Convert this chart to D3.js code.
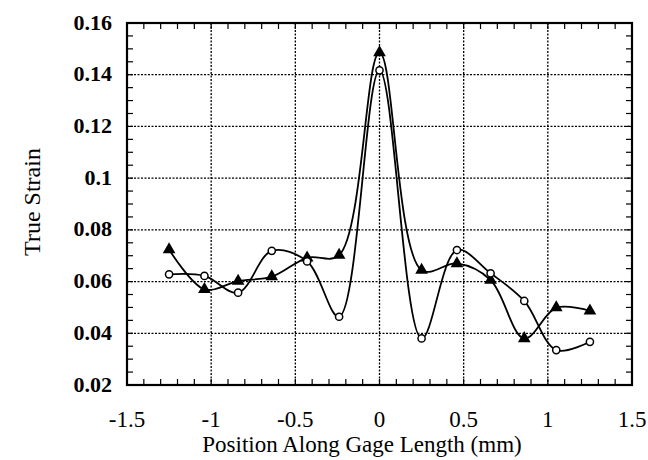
<!DOCTYPE html>
<html>
<head>
<meta charset="utf-8">
<script src="https://cdn.jsdelivr.net/npm/d3@7"></script>
<style>
  body { margin: 0; background: #fff; }
  text { font-family: "Liberation Serif", "Times New Roman", serif; fill: #000; }
</style>
</head>
<body>
<div id="chart"></div>
<script>
// positions along the gage (mm)
var positions = [-1.25, -1.04, -0.84, -0.64, -0.43, -0.24, 0, 0.25, 0.46, 0.66, 0.86, 1.05, 1.25];
// open circle series
var circleStrain = [0.0628, 0.0622, 0.0557, 0.0719, 0.0678, 0.0464, 0.1417, 0.0380, 0.0722, 0.0632, 0.0525, 0.0335, 0.0367];
// filled triangle series
var triangleStrain = [0.0724, 0.0570, 0.0602, 0.0619, 0.0692, 0.0702, 0.1486, 0.0644, 0.0670, 0.0606, 0.0380, 0.0499, 0.0487];

var xTicks = [-1.5, -1, -0.5, 0, 0.5, 1, 1.5];
var xTickLabels = ["-1.5", "-1", "-0.5", "0", "0.5", "1", "1.5"];
var yTicks = [0.02, 0.04, 0.06, 0.08, 0.1, 0.12, 0.14, 0.16];
var yTickLabels = ["0.02", "0.04", "0.06", "0.08", "0.1", "0.12", "0.14", "0.16"];

var width = 648,
    height = 460;
var margin = {left: 127, top: 23, right: 16, bottom: 75};
var w = width - margin.left - margin.right,
    h = height - margin.top - margin.bottom;

var svg = d3.select("#chart").append("svg")
    .attr("width", width)
    .attr("height", height);

var g = svg.append("g")
    .attr("transform", "translate(" + margin.left + "," + margin.top + ")");

var x = d3.scaleLinear().domain([-1.5, 1.5]).range([0, w]);
var y = d3.scaleLinear().domain([0.02, 0.16]).range([h, 0]);

// dotted grid
g.selectAll(".vgrid")
    .data(xTicks.slice(1, -1))
    .enter().append("line")
    .attr("x1", function(d) { return x(d); })
    .attr("x2", function(d) { return x(d); })
    .attr("y1", 0).attr("y2", h)
    .attr("stroke", "#000").attr("stroke-width", 1.3)
    .attr("stroke-dasharray", "2,1.5");

g.selectAll(".hgrid")
    .data(yTicks.slice(1, -1))
    .enter().append("line")
    .attr("y1", function(d) { return y(d); })
    .attr("y2", function(d) { return y(d); })
    .attr("x1", 0).attr("x2", w)
    .attr("stroke", "#000").attr("stroke-width", 1.3)
    .attr("stroke-dasharray", "2,1.5");

// minor ticks, inside the frame
var xMinor = d3.range(-14, 15).map(function(i) { return i / 10; });
var yMinor = d3.range(5, 32).map(function(i) { return i * 0.005; });
var tl = 6;

xMinor.forEach(function(v) {
    g.append("line").attr("x1", x(v)).attr("x2", x(v)).attr("y1", h).attr("y2", h - tl)
        .attr("stroke", "#000").attr("stroke-width", 1.2);
    g.append("line").attr("x1", x(v)).attr("x2", x(v)).attr("y1", 0).attr("y2", tl)
        .attr("stroke", "#000").attr("stroke-width", 1.2);
});
yMinor.forEach(function(v) {
    g.append("line").attr("y1", y(v)).attr("y2", y(v)).attr("x1", 0).attr("x2", tl)
        .attr("stroke", "#000").attr("stroke-width", 1.2);
    g.append("line").attr("y1", y(v)).attr("y2", y(v)).attr("x1", w).attr("x2", w - tl)
        .attr("stroke", "#000").attr("stroke-width", 1.2);
});

// frame
g.append("rect")
    .attr("width", w).attr("height", h)
    .attr("fill", "none").attr("stroke", "#000").attr("stroke-width", 2.2);

// tick labels
g.selectAll(".xlab")
    .data(xTicks)
    .enter().append("text")
    .attr("x", function(d) { return x(d); })
    .attr("y", h + 42)
    .attr("text-anchor", "middle")
    .style("font-size", "23px")
    .text(function(d, i) { return xTickLabels[i]; });

g.selectAll(".ylab")
    .data(yTicks)
    .enter().append("text")
    .attr("x", -15)
    .attr("y", function(d) { return y(d); })
    .attr("dy", "0.3em")
    .attr("text-anchor", "end")
    .style("font-size", "22px")
    .style("font-weight", "bold")
    .text(function(d, i) { return yTickLabels[i]; });

// axis titles
svg.append("text")
    .attr("x", 362).attr("y", 452)
    .attr("text-anchor", "middle")
    .style("font-size", "23px")
    .text("Position Along Gage Length (mm)");

svg.append("text")
    .attr("transform", "translate(40,202) rotate(-90)")
    .attr("text-anchor", "middle")
    .style("font-size", "24px")
    .text("True Strain");

// smoothed lines
var line = d3.line()
    .x(function(d) { return x(d[0]); })
    .y(function(d) { return y(d[1]); })
    .curve(d3.curveCatmullRom.alpha(0.5));

var circlePts = positions.map(function(p, i) { return [p, circleStrain[i]]; });
var trianglePts = positions.map(function(p, i) { return [p, triangleStrain[i]]; });

g.append("path").attr("d", line(trianglePts))
    .attr("fill", "none").attr("stroke", "#000").attr("stroke-width", 1.8);
g.append("path").attr("d", line(circlePts))
    .attr("fill", "none").attr("stroke", "#000").attr("stroke-width", 1.8);

// markers
var tri = d3.symbol().type(d3.symbolTriangle).size(70);
g.selectAll(".tri")
    .data(trianglePts)
    .enter().append("path")
    .attr("d", tri)
    .attr("transform", function(d) { return "translate(" + x(d[0]) + "," + y(d[1]) + ")"; })
    .attr("fill", "#000");

g.selectAll(".circ")
    .data(circlePts)
    .enter().append("circle")
    .attr("cx", function(d) { return x(d[0]); })
    .attr("cy", function(d) { return y(d[1]); })
    .attr("r", 3.6)
    .attr("fill", "#fff")
    .attr("stroke", "#000")
    .attr("stroke-width", 1.5);
</script>
</body>
</html>
